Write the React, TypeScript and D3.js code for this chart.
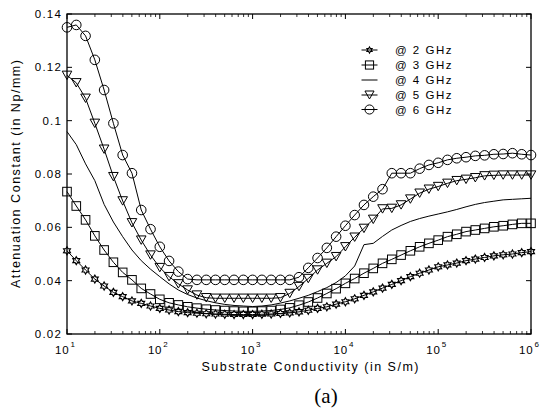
import React from "react";
import * as d3 from "d3";

const conductivity = [
  10, 12.59, 15.85, 19.95, 25.12, 31.62, 39.81, 50.12, 63.1, 79.43,
  100, 125.9, 158.5, 199.5, 251.2, 316.2, 398.1, 501.2, 631, 794.3,
  1000, 1259, 1585, 1995, 2512, 3162, 3981, 5012, 6310, 7943,
  10000, 12590, 15850, 19950, 25120, 31620, 39810, 50120, 63100, 79430,
  100000, 125900, 158500, 199500, 251200, 316200, 398100, 501200, 631000, 794300, 1000000,
];

const ghz2 = [
  0.0512, 0.0475, 0.044, 0.0406, 0.038, 0.0356, 0.034, 0.0324, 0.0315, 0.0305,
  0.0296, 0.029, 0.0284, 0.028, 0.0278, 0.0276, 0.0275, 0.0274, 0.0273, 0.0273,
  0.0273, 0.0274, 0.0275, 0.0277, 0.0279, 0.0283, 0.0289, 0.0296, 0.0302, 0.0312,
  0.0321, 0.0332, 0.0345, 0.0358, 0.0372, 0.0386, 0.04, 0.0415, 0.0428, 0.044,
  0.0452, 0.0459, 0.0466, 0.0475, 0.0481, 0.0487, 0.0493, 0.0497, 0.05, 0.0505, 0.0509,
];
const ghz3 = [
  0.0734, 0.068, 0.0628, 0.0568, 0.0515, 0.0469, 0.0431, 0.0403, 0.0371, 0.035,
  0.033, 0.0317, 0.0309, 0.0302, 0.0297, 0.0293, 0.029, 0.0288, 0.0286, 0.0285,
  0.0285, 0.0286, 0.0288, 0.0292, 0.0298, 0.0308, 0.032, 0.0335, 0.0352, 0.037,
  0.039, 0.0408, 0.0428, 0.0446, 0.0465, 0.048, 0.0496, 0.0512, 0.0527, 0.054,
  0.0552, 0.0565, 0.0574, 0.0584, 0.059, 0.0596, 0.0602, 0.0606, 0.0611, 0.0615, 0.0615,
];
const ghz4 = [
  0.0959, 0.091, 0.0838, 0.0775, 0.0686, 0.062, 0.0565, 0.0515, 0.0475, 0.0443,
  0.0415, 0.0388, 0.0365, 0.0348, 0.0335, 0.0325, 0.0317, 0.0311, 0.0307, 0.0305,
  0.0303, 0.0305, 0.0309, 0.0316, 0.0324, 0.0334, 0.0345, 0.0359, 0.0374, 0.0393,
  0.0418, 0.0455, 0.0535, 0.054, 0.0566, 0.059, 0.0607, 0.0622, 0.0633, 0.0642,
  0.065, 0.0658, 0.0667, 0.0677, 0.0686, 0.0693, 0.0698, 0.0703, 0.0705, 0.0707, 0.0709,
];
const ghz5 = [
  0.117, 0.1142, 0.1084, 0.099, 0.0893, 0.079, 0.0699, 0.0617, 0.0552, 0.0496,
  0.0449, 0.0415, 0.0388, 0.0365, 0.0346, 0.0336, 0.0334, 0.0334, 0.0334, 0.0334,
  0.0334, 0.0334, 0.0334, 0.0336, 0.0352, 0.0378, 0.0408, 0.044, 0.0465, 0.049,
  0.0527, 0.0563, 0.0596, 0.063, 0.0669, 0.0671, 0.0684, 0.0706, 0.0728, 0.0743,
  0.0753, 0.0765, 0.0775, 0.078, 0.0786, 0.0793, 0.0795, 0.0796, 0.0796, 0.0796, 0.0796,
];
const ghz6 = [
  0.135, 0.1359, 0.1318, 0.1228, 0.1115, 0.099, 0.0871, 0.0803, 0.0665, 0.0593,
  0.0527, 0.0474, 0.0434, 0.0406, 0.0403, 0.0403, 0.0403, 0.0403, 0.0403, 0.0403,
  0.0403, 0.0403, 0.0403, 0.0403, 0.0403, 0.0413, 0.0448, 0.0485, 0.0523, 0.0565,
  0.0606, 0.0646, 0.0684, 0.0715, 0.0743, 0.0803, 0.0803, 0.0803, 0.082, 0.0834,
  0.0842, 0.0853, 0.0859, 0.0863, 0.0868, 0.087, 0.0874, 0.0875, 0.0878, 0.0874, 0.0871,
];

const seriesNames = ["@ 2 GHz", "@ 3 GHz", "@ 4 GHz", "@ 5 GHz", "@ 6 GHz"];
const seriesMarkers = ["hex", "square", "none", "tri", "circle"];
const seriesValues = [ghz2, ghz3, ghz4, ghz5, ghz6];

const yTicks = [0.02, 0.04, 0.06, 0.08, 0.1, 0.12, 0.14];
const yTickLabels = ["0.02", "0.04", "0.06", "0.08", "0.1", "0.12", "0.14"];
const xTickExps = ["1", "2", "3", "4", "5", "6"];

const W = 542, H = 411;
const L = 67, R = 531, T = 14, B = 334;
const FONT = "'Liberation Sans', Arial, Helvetica, sans-serif";

function hexagram(r: number) {
  const pts: string[] = [];
  for (let i = 0; i < 12; i++) {
    const a = -Math.PI / 2 + (i * Math.PI) / 6;
    const rr = i % 2 === 0 ? r : r * 0.58;
    pts.push(`${(rr * Math.cos(a)).toFixed(2)},${(rr * Math.sin(a)).toFixed(2)}`);
  }
  return "M" + pts.join("L") + "Z";
}

function Marker({ type, x, y, s = 1 }: { type: string; x: number; y: number; s?: number }) {
  const common = { fill: "none", stroke: "#000", strokeWidth: 1 };
  if (type === "hex")
    return <path d={hexagram(4 * s)} transform={`translate(${x},${y})`} fill="none" stroke="#000" strokeWidth={1.15} />;
  if (type === "square") {
    const a = 8.6 * s;
    return <rect x={x - a / 2} y={y - a / 2} width={a} height={a} {...common} />;
  }
  if (type === "tri") {
    const w = 9.6 * s, h = 8.4 * s;
    return <path d={`M${x - w / 2},${y - h / 2}L${x + w / 2},${y - h / 2}L${x},${y + h / 2}Z`} {...common} />;
  }
  if (type === "circle") return <circle cx={x} cy={y} r={4.8 * s} {...common} />;
  return null;
}

export default function App() {
  const x = d3.scaleLog().domain([10, 1e6]).range([L, R]);
  const y = d3.scaleLinear().domain([0.02, 0.14]).range([B, T]);
  const line = d3.line<number>().x((_, i) => x(conductivity[i])).y((d) => y(d));

  const minorTicks: number[] = [];
  for (let e = 1; e < 6; e++) for (let m = 2; m <= 9; m++) minorTicks.push(m * 10 ** e);
  const majorTicks = xTickExps.map((e) => 10 ** +e);

  const legendY = [50, 65, 80, 95, 109.5];

  return (
    <div style={{ position: "absolute", left: 0, top: 0 }}>
      <svg width={W} height={H} style={{ display: "block", background: "#fff" }}>
        <rect x={0} y={0} width={W} height={H} fill="#fff" />
        {seriesValues.map((vals, si) => (
          <g key={si}>
            <path d={line(vals) || ""} fill="none" stroke="#000" strokeWidth={1} />
            {seriesMarkers[si] !== "none" &&
              vals.map((v, i) => <Marker key={i} type={seriesMarkers[si]} x={x(conductivity[i])} y={y(v)} />)}
          </g>
        ))}
        <rect x={L} y={T} width={R - L} height={B - T} fill="none" stroke="#000" strokeWidth={1.3} />
        {majorTicks.map((t, i) => (
          <g key={"xm" + i}>
            <line x1={x(t)} x2={x(t)} y1={B} y2={B - 5} stroke="#000" />
            <line x1={x(t)} x2={x(t)} y1={T} y2={T + 5} stroke="#000" />
          </g>
        ))}
        {minorTicks.map((t, i) => (
          <g key={"xn" + i}>
            <line x1={x(t)} x2={x(t)} y1={B} y2={B - 3} stroke="#000" strokeWidth={0.8} />
            <line x1={x(t)} x2={x(t)} y1={T} y2={T + 3} stroke="#000" strokeWidth={0.8} />
          </g>
        ))}
        {yTicks.map((t, i) => (
          <g key={"y" + i}>
            <line x1={L} x2={L + 5} y1={y(t)} y2={y(t)} stroke="#000" />
            <line x1={R} x2={R - 5} y1={y(t)} y2={y(t)} stroke="#000" />
            <text x={62} y={y(t) + 4} textAnchor="end" fontFamily={FONT} fontSize={11.5} letterSpacing={1.2}>
              {yTickLabels[i]}
            </text>
          </g>
        ))}
        {majorTicks.map((t, i) => (
          <g key={"xl" + i}>
            <text x={x(t) + 2.5} y={354} textAnchor="end" fontFamily={FONT} fontSize={11.5} letterSpacing={0.8}>
              10
            </text>
            <text x={x(t) + 3.5} y={347} fontFamily={FONT} fontSize={8}>
              {xTickExps[i]}
            </text>
          </g>
        ))}
        <text x={310} y={371} textAnchor="middle" fontFamily={FONT} fontSize={12.5} textLength={217} lengthAdjust="spacing">
          Substrate Conductivity (in S/m)
        </text>
        <text
          transform={`translate(19.5,${(T + B) / 2}) rotate(-90)`}
          textAnchor="middle"
          fontFamily={FONT}
          fontSize={12.5}
          textLength={228}
          lengthAdjust="spacing"
        >
          Attenuation Constant (in Np/mm)
        </text>
        <text x={326} y={403} textAnchor="middle" fontFamily="'Liberation Serif', 'Times New Roman', serif" fontSize={21}>
          (a)
        </text>
        {seriesNames.map((n, i) => (
          <g key={"lg" + i}>
            <line x1={361.5} x2={377.5} y1={legendY[i]} y2={legendY[i]} stroke="#000" strokeWidth={1} />
            <Marker type={seriesMarkers[i]} x={369.5} y={legendY[i]} s={i === 0 ? 0.75 : 0.95} />
            <text x={395} y={legendY[i] + 4} fontFamily={FONT} fontSize={11.5} letterSpacing={1.5}>
              {n}
            </text>
          </g>
        ))}
      </svg>
    </div>
  );
}
